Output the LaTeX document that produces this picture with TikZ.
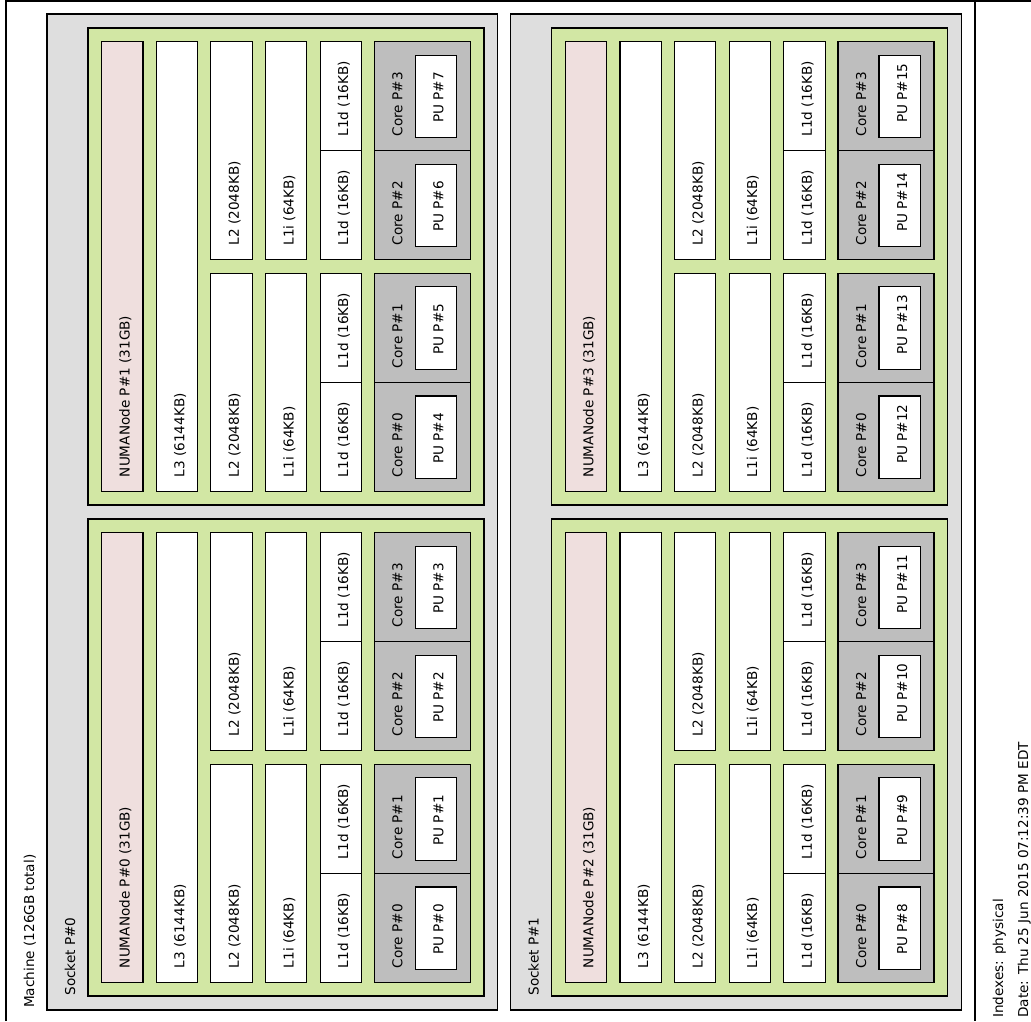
\documentclass[tikz,border=0pt]{standalone}
\usepackage{fontspec}
\setmainfont{DejaVu Sans}
\usepackage{xcolor}
\usepackage{tikz}

\definecolor{socketcol}{HTML}{DEDEDE}
\definecolor{numacol}{HTML}{D2E7A4}
\definecolor{memcol}{HTML}{EFDFDE}
\definecolor{corecol}{HTML}{BEBEBE}

\newcommand{\topobox}[7]{%
  \draw[box, fill=#2] (#3,#4) rectangle (#3+#5,#4-#6);
  \node[lbl] (#1) at (#3+28,#4-14.3) {#7};
}

\begin{document}
\begin{tikzpicture}[x=0.75pt, y=-0.75pt,
        box/.style={draw=black, line width=0.8pt},
        lbl/.style={rotate=90, anchor=base west, inner sep=0pt, font=\fontsize{10.2}{12}\selectfont}]
        \useasboundingbox (0,0) rectangle (1031,1021);

        \draw[box] (6,1021) -- (6,1) -- (1031,1);
        \draw[box] (975,1) -- (975,1021);
        \node[lbl] (machine) at (34,1008) {Machine (126GB total)};
        \node[lbl] (indexes) at (1003,1018) {Indexes: physical};
        \node[lbl] (date) at (1028,1018) {Date: Thu 25 Jun 2015 07:12:39 PM EDT};

        \foreach \s in {0,1} {
          \pgfmathsetmacro{\sx}{47+463.7*\s}
          \topobox{socket\s}{socketcol}{\sx}{1010}{450.7}{996}{Socket P\#\s}
          \foreach \h in {0,1} {
            \pgfmathtruncatemacro{\n}{2*\s+\h}
            \pgfmathsetmacro{\gb}{996-491*\h}
            \draw[box, fill=numacol] (\sx+41,\gb) rectangle (\sx+437,\gb-477);
            \pgfmathsetmacro{\B}{\gb-13.3}
            \pgfmathsetmacro{\cx}{\sx+54.7}
            \topobox{mem\n}{memcol}{\cx}{\B}{41.3}{450}{NUMANode P\#\n{} (31GB)}
            \topobox{lthree\n}{white}{\cx+54.6}{\B}{41.3}{450}{L3 (6144KB)}
            \foreach \p in {0,1} {
              \pgfmathsetmacro{\pb}{\B-231.8*\p}
              \topobox{ltwo\n p\p}{white}{\cx+109.2}{\pb}{41.3}{218.2}{L2 (2048KB)}
              \topobox{lonei\n p\p}{white}{\cx+163.8}{\pb}{41.3}{218.2}{L1i (64KB)}
              \foreach \c in {0,1} {
                \pgfmathtruncatemacro{\k}{2*\p+\c}
                \pgfmathtruncatemacro{\pu}{4*\n+\k}
                \pgfmathsetmacro{\kb}{\pb-109.1*\c}
                \topobox{loned\n c\k}{white}{\cx+218.4}{\kb}{41.3}{109.1}{L1d (16KB)}
                \topobox{core\n c\k}{corecol}{\cx+272.6}{\kb}{96}{109.1}{Core P\#\k}
                \topobox{pu\pu}{white}{\cx+313.6}{\kb-13.4}{41.4}{82.3}{PU P\#\pu}
              }
            }
          }
        }
\end{tikzpicture}
\end{document}
